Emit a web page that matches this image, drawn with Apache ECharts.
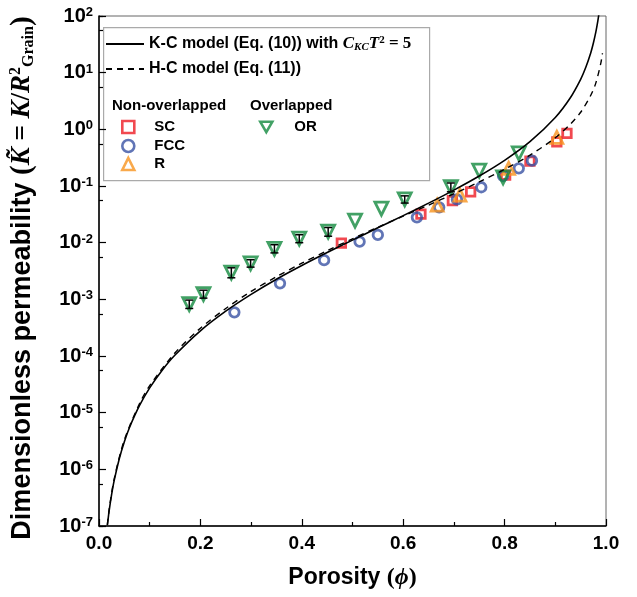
<!DOCTYPE html>
<html>
<head>
<meta charset="utf-8">
<title>Dimensionless permeability vs porosity</title>
<script src="https://cdn.jsdelivr.net/npm/echarts@6/dist/echarts.min.js"></script>
<style>
  html, body { margin: 0; padding: 0; background: #fff; }
  #chart { width: 637px; height: 597px; }
</style>
</head>
<body>
<div id="chart"></div>
<script>
// K-C model curve (solid)
const kcPhi = [0.0165, 0.02, 0.025, 0.03, 0.04, 0.05, 0.06, 0.08, 0.1, 0.125, 0.15, 0.2, 0.25, 0.3, 0.35, 0.4, 0.45, 0.5, 0.55, 0.6, 0.65, 0.7, 0.75, 0.8, 0.85, 0.9, 0.93, 0.95, 0.96, 0.97, 0.975, 0.98, 0.984, 0.987];
const kcK = [1.03e-7, 1.85e-7, 3.65e-7, 6.4e-7, 1.54e-6, 3.08e-6, 5.43e-6, 1.34e-5, 2.74e-5, 5.67e-5, 1.04e-4, 2.78e-4, 6.17e-4, 1.22e-3, 2.26e-3, 3.95e-3, 6.69e-3, 1.11e-2, 1.83e-2, 3.0e-2, 4.98e-2, 8.47e-2, 0.15, 0.284, 0.607, 1.62, 3.65, 7.62, 12.3, 22.5, 33, 52.3, 82.7, 126];

// H-C model curve (dashed)
const hcPhi = [0.0165, 0.02, 0.03, 0.05, 0.08, 0.1, 0.15, 0.2, 0.25, 0.3, 0.35, 0.4, 0.45, 0.5, 0.55, 0.6, 0.65, 0.7, 0.75, 0.8, 0.85, 0.9, 0.93, 0.95, 0.97, 0.98, 0.99, 0.993];
const hcK = [1.05e-7, 1.95e-7, 6.8e-7, 3.3e-6, 1.45e-5, 3.0e-5, 1.14e-4, 3.1e-4, 6.9e-4, 1.38e-3, 2.5e-3, 4.35e-3, 7.2e-3, 1.17e-2, 1.87e-2, 2.94e-2, 4.6e-2, 7.3e-2, 0.118, 0.197, 0.35, 0.71, 1.24, 2.0, 4.0, 6.6, 15, 22];

// Non-overlapped packings
const scPhi = [0.478, 0.635, 0.697, 0.733, 0.802, 0.850, 0.903, 0.923];
const scK = [9.8e-3, 3.2e-2, 5.5e-2, 7.9e-2, 0.156, 0.275, 0.60, 0.85];
const fccPhi = [0.267, 0.357, 0.444, 0.514, 0.550, 0.627, 0.671, 0.706, 0.754, 0.797, 0.828, 0.854];
const fccK = [5.9e-4, 1.92e-3, 4.9e-3, 1.04e-2, 1.37e-2, 2.8e-2, 4.2e-2, 5.8e-2, 9.5e-2, 0.15, 0.205, 0.28];
const rPhi = [0.667, 0.712, 0.808, 0.903];
const rK = [4.6e-2, 6.9e-2, 0.205, 0.72];

// Overlapped (OR) with error bars where shown
const orPhi = [0.178, 0.206, 0.261, 0.299, 0.346, 0.395, 0.452, 0.505, 0.557, 0.603, 0.694, 0.750, 0.797, 0.828];
const orK = [8.2e-4, 1.24e-3, 2.95e-3, 4.3e-3, 7.8e-3, 1.18e-2, 1.56e-2, 2.45e-2, 4.0e-2, 5.8e-2, 9.5e-2, 0.187, 0.142, 0.378];
const orErrLo = [6.9e-4, 1.05e-3, 2.4e-3, 3.7e-3, 6.6e-3, 1.0e-2, 1.3e-2, null, null, 5.0e-2, 7.9e-2, null, null, null];
const orErrHi = [9.7e-4, 1.45e-3, 3.6e-3, 5.0e-3, 9.2e-3, 1.38e-2, 1.85e-2, null, null, 6.7e-2, 1.13e-1, null, null, null];

const xTicks = ['0.0', '0.2', '0.4', '0.6', '0.8', '1.0'];

const SANS = '"Liberation Sans", Arial, sans-serif';
const SERIF = '"Liberation Serif", "DejaVu Serif", serif';

const pairs = (xs, ys) => xs.map((x, i) => [x, ys[i]]);

const errData = [];
orPhi.forEach((p, i) => {
  if (orErrLo[i] != null) errData.push([p, orErrLo[i], orErrHi[i]]);
});

function renderErrorBar(params, api) {
  const x = api.value(0);
  const lo = api.coord([x, api.value(1)]);
  const hi = api.coord([x, api.value(2)]);
  const cap = 4;
  const style = { stroke: '#000', lineWidth: 1.5 };
  return {
    type: 'group',
    children: [
      { type: 'line', shape: { x1: lo[0], y1: lo[1], x2: hi[0], y2: hi[1] }, style: style },
      { type: 'line', shape: { x1: lo[0] - cap, y1: lo[1], x2: lo[0] + cap, y2: lo[1] }, style: style },
      { type: 'line', shape: { x1: hi[0] - cap, y1: hi[1], x2: hi[0] + cap, y2: hi[1] }, style: style }
    ]
  };
}

const markerBase = { color: 'transparent', borderWidth: 2.8 };

function legendAt(name, left, top, w, h, fontSize, extra) {
  return Object.assign({
    data: [name],
    left: left,
    top: top,
    padding: 0,
    itemWidth: w,
    itemHeight: h,
    symbolKeepAspect: true,
    selectedMode: false,
    textStyle: { fontFamily: SANS, fontWeight: 'bold', fontSize: fontSize, color: '#000', lineHeight: 18 }
  }, extra || {});
}

// legend entries for the markers: square icon, text pushed right
function markerLegend(name, left, top, gap, extra) {
  return legendAt(name, left, top, 12, 12, 15, Object.assign({
    formatter: n => '{g|}' + n,
    itemStyle: { borderWidth: 2.6 },
    textStyle: {
      fontFamily: SANS, fontWeight: 'bold', fontSize: 15, color: '#000', lineHeight: 16,
      rich: { g: { width: gap } }
    }
  }, extra || {}));
}

const lineLegendItem = { color: 'transparent', borderColor: 'transparent', borderWidth: 0 };

const chart = echarts.init(document.getElementById('chart'));

const option = {
  animation: false,
  backgroundColor: '#fff',
  grid: { left: 96, right: 31, top: 16, bottom: 71, show: true, borderColor: '#666', borderWidth: 1 },
  xAxis: {
    type: 'value',
    min: 0,
    max: 1,
    interval: 0.2,
    name: 'Porosity {p|(}{m|\u03d5}{p|)}',
    nameLocation: 'middle',
    nameGap: 40,
    nameTextStyle: {
      fontFamily: SANS, fontWeight: 'bold', fontSize: 23, color: '#000',
      rich: {
        p: { fontFamily: SERIF, fontSize: 24, color: '#000' },
        m: { fontFamily: SERIF, fontStyle: 'italic', fontWeight: 'bold', fontSize: 24, color: '#000' }
      }
    },
    axisLine: { lineStyle: { color: '#000', width: 1.5 } },
    axisTick: { inside: true, length: 7, lineStyle: { color: '#000', width: 1.2 } },
    minorTick: { show: true, splitNumber: 2, length: 4, lineStyle: { color: '#000', width: 1.2 } },
    splitLine: { show: false },
    axisLabel: {
      margin: 8,
      fontFamily: SANS, fontWeight: 'bold', fontSize: 19, color: '#000',
      formatter: v => xTicks[Math.round(v / 0.2)]
    }
  },
  yAxis: [
    {
      type: 'log',
      logBase: 10,
      min: 1e-7,
      max: 100,
      name: 'Dimensionless permeability {p|(}{m|K\u0303}{t| = }{m|K}{t|/}{m|R}{sup|2}{sub|Grain}{p|)}',
      nameLocation: 'middle',
      nameGap: 62,
      nameTextStyle: {
        fontFamily: SANS, fontWeight: 'bold', fontSize: 27, color: '#000',
        padding: [0, 14, 0, 0],
        rich: {
          p: { fontFamily: SERIF, fontSize: 29, color: '#000' },
          m: { fontFamily: SERIF, fontStyle: 'italic', fontWeight: 'bold', fontSize: 27, color: '#000' },
          t: { fontFamily: SERIF, fontWeight: 'bold', fontSize: 27, color: '#000' },
          sup: { fontFamily: SERIF, fontSize: 16, color: '#000', verticalAlign: 'top' },
          sub: { fontFamily: SERIF, fontSize: 16, color: '#000', verticalAlign: 'bottom' }
        }
      },
      axisLine: { lineStyle: { color: '#000', width: 1.5 } },
      axisTick: { inside: true, length: 7, lineStyle: { color: '#000', width: 1.2 } },
      splitLine: { show: false },
      axisLabel: {
        margin: 6,
        formatter: v => '{a|10}{b|' + Math.round(Math.log10(v)) + '}',
        rich: {
          a: { fontFamily: SANS, fontWeight: 'bold', fontSize: 20, color: '#000' },
          b: { fontFamily: SANS, fontWeight: 'bold', fontSize: 13, color: '#000', verticalAlign: 'top' }
        }
      }
    },
    {
      // only used for the minor ticks halfway (linear) between decades
      type: 'log',
      logBase: 10,
      min: 1e-7 / 5.5,
      max: 100 / 5.5,
      position: 'left',
      axisLine: { show: false },
      axisTick: { inside: true, length: 4, lineStyle: { color: '#000', width: 1.2 } },
      axisLabel: { show: false },
      splitLine: { show: false }
    }
  ],
  legend: [
    legendAt('K-C', 105, 35, 38, 18, 16, {
      itemStyle: lineLegendItem,
      formatter: () => 'K-C model (Eq. (10)) with {m|C}{sub|KC}{m|T}{sup|2}{t| = 5}',
      textStyle: {
        fontFamily: SANS, fontWeight: 'bold', fontSize: 16, color: '#000', lineHeight: 18,
        rich: {
          m: { fontFamily: SERIF, fontStyle: 'italic', fontWeight: 'bold', fontSize: 17, color: '#000' },
          sub: { fontFamily: SERIF, fontStyle: 'italic', fontWeight: 'bold', fontSize: 11, color: '#000', verticalAlign: 'bottom' },
          sup: { fontFamily: SERIF, fontWeight: 'bold', fontSize: 11, color: '#000', verticalAlign: 'top' },
          t: { fontFamily: SERIF, fontWeight: 'bold', fontSize: 17, color: '#000' }
        }
      }
    }),
    legendAt('H-C', 105, 60, 38, 18, 16, { itemStyle: lineLegendItem, formatter: () => 'H-C model (Eq. (11))' }),
    markerLegend('SC', 121, 119, 15),
    markerLegend('FCC', 121, 138, 15),
    markerLegend('R', 121, 156, 15),
    markerLegend('OR', 259, 119, 17, { data: [{ name: 'OR', icon: 'path://M0,0L12,0L6,10.4Z' }] })
  ],
  graphic: [
    {
      type: 'rect', left: 103, top: 27, z: 0,
      shape: { width: 326, height: 153 },
      style: { fill: '#fff', stroke: '#aaa', lineWidth: 1.2 }
    },
    {
      type: 'text', left: 112, top: 98, z: 5,
      style: { text: 'Non-overlapped', font: 'bold 15px ' + SANS, fill: '#000' }
    },
    {
      type: 'text', left: 250, top: 98, z: 5,
      style: { text: 'Overlapped', font: 'bold 15px ' + SANS, fill: '#000' }
    }
  ],
  series: [
    {
      name: 'K-C', type: 'line', data: pairs(kcPhi, kcK),
      symbol: 'none', smooth: 0.3, clip: true,
      lineStyle: { color: '#000', width: 1.6 }, itemStyle: { color: '#000' }
    },
    {
      name: 'H-C', type: 'line', data: pairs(hcPhi, hcK),
      symbol: 'none', smooth: 0.3, clip: true,
      lineStyle: { color: '#000', width: 1.4, type: [6, 5] }, itemStyle: { color: '#000' }
    },
    {
      name: 'SC', type: 'scatter', data: pairs(scPhi, scK),
      symbol: 'rect', symbolSize: 8.5,
      itemStyle: Object.assign({ borderColor: '#ed1c24' }, markerBase)
    },
    {
      name: 'FCC', type: 'scatter', data: pairs(fccPhi, fccK),
      symbol: 'circle', symbolSize: 9.5,
      itemStyle: Object.assign({ borderColor: '#3953a4' }, markerBase)
    },
    {
      name: 'R', type: 'scatter', data: pairs(rPhi, rK),
      symbol: 'triangle', symbolSize: 12,
      itemStyle: Object.assign({ borderColor: '#f7931e' }, markerBase)
    },
    {
      name: 'OR', type: 'scatter', data: pairs(orPhi, orK),
      symbol: 'triangle', symbolRotate: 180, symbolSize: 13,
      itemStyle: Object.assign({ borderColor: '#138a3f' }, markerBase)
    },
    {
      name: 'OR error', type: 'custom', data: errData,
      encode: { x: 0, y: [1, 2] },
      renderItem: renderErrorBar, z: 5
    }
  ]
};

chart.setOption(option);
</script>
</body>
</html>
